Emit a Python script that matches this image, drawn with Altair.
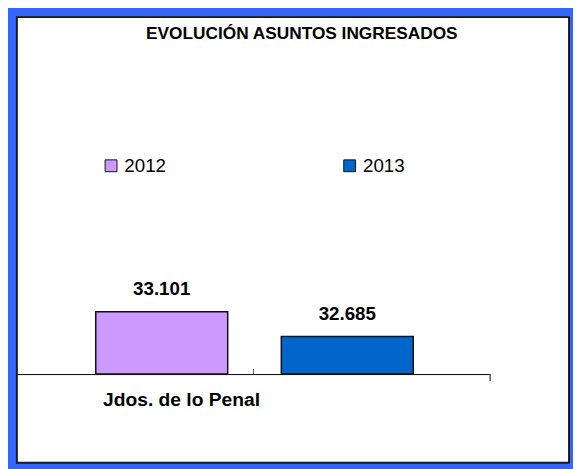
import altair as alt
import pandas as pd

category = ["Jdos. de lo Penal"]
years = ["2012", "2013"]
values = [33101, 32685]
labels = [f"{v:,}".replace(",", ".") for v in values]
colors = ["#CC99FF", "#0066CC"]
title_text = "EVOLUCIÓN ASUNTOS INGRESADOS"

df = pd.DataFrame({
    "cat": category * len(years),
    "year": years,
    "value": values,
    "label": labels,
})

FONT = "Liberation Sans"
BASE = 32050

x_enc = alt.X(
    "cat:N",
    scale=alt.Scale(range=[0, 480], paddingInner=0, paddingOuter=0),
    axis=alt.Axis(
        title=None, domainColor="#000000", domainWidth=1, ticks=False,
        labelFont=FONT, labelFontSize=19.5, labelFontWeight="bold",
        labelColor="#000000", labelAngle=0, labelPadding=17,
        labelOffset=-73, offset=-90,
    ),
)
xoff_enc = alt.XOffset(
    "year:N",
    scale=alt.Scale(range=[80, 402], paddingInner=0.289, paddingOuter=0),
)
y_enc = alt.Y(
    "value:Q",
    scale=alt.Scale(domain=[BASE, 38070], range=[362, 0], zero=False, nice=False),
    axis=None,
)

base = alt.Chart(df)

bars = base.mark_bar(stroke="#111111", strokeWidth=1.5).encode(
    x=x_enc,
    xOffset=xoff_enc,
    y=y_enc,
    y2=alt.datum(BASE),
    color=alt.Color(
        "year:N",
        scale=alt.Scale(domain=years, range=colors),
        legend=alt.Legend(
            title=None, orient="none", direction="horizontal",
            legendX=86, legendY=141, padding=0,
            symbolType="square", symbolSize=144, symbolStrokeColor="#111111",
            symbolStrokeWidth=1, labelFont=FONT, labelFontSize=19,
            labelColor="#000000", labelOffset=4, columnPadding=176,
        ),
    ),
)

texts = base.mark_text(
    font=FONT, fontSize=19, fontWeight="bold", color="#000000",
    baseline="bottom", dy=-13,
).encode(
    x=x_enc,
    xOffset=xoff_enc,
    y=y_enc,
    text="label:N",
)

title = alt.Chart(pd.DataFrame({"t": [title_text]})).mark_text(
    font=FONT, fontSize=17.5, fontWeight="bold", color="#000000",
    align="center", baseline="middle",
).encode(x=alt.value(289), y=alt.value(17), text="t:N")

tick_mid = alt.Chart(pd.DataFrame({"a": [0]})).mark_rule(color="#555555", strokeWidth=1).encode(
    x=alt.value(240), y=alt.value(357), y2=alt.value(362)
)
tick_end = alt.Chart(pd.DataFrame({"a": [0]})).mark_rule(color="#555555", strokeWidth=1.5).encode(
    x=alt.value(480), y=alt.value(362), y2=alt.value(369)
)

chart = alt.layer(bars, texts, title, tick_mid, tick_end).properties(
    width=560, height=452,
    background="#3366FF",
    padding={"left": 9, "top": 6, "right": 4, "bottom": 3},
    autosize=alt.AutoSizeParams(type="none"),
).configure_view(
    fill="#FFFFFF", stroke="#1a1a1a", strokeWidth=2,
)

chart.save("out.html", embed_options={"renderer": "svg", "actions": False})
